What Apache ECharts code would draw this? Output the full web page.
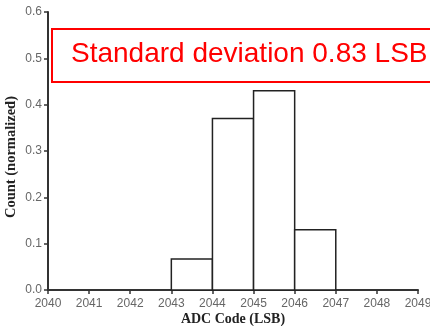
<!DOCTYPE html>
<html>
<head>
<meta charset="utf-8">
<script src="https://cdn.jsdelivr.net/npm/echarts@6/dist/echarts.min.js"></script>
<style>html,body{margin:0;padding:0;background:#fff}#c{width:430px;height:326px}</style>
</head>
<body>
<div id="c"></div>
<script>
var binStarts = [2043, 2044, 2045, 2046];
var counts = [0.067, 0.37, 0.43, 0.13];
var xTitle = 'ADC Code (LSB)';
var yTitle = 'Count (normalized)';
var boxText = 'Standard deviation 0.83 LSB';

var chart = echarts.init(document.getElementById('c'), null, {renderer: 'canvas'});
var data = binStarts.map(function (s, i) { return [s, s + 1, counts[i]]; });
chart.setOption({
  animation: false,
  backgroundColor: '#fff',
  grid: {left: 48, right: 12, top: 12, bottom: 36, containLabel: false, outerBoundsMode: 'none'},
  xAxis: {
    type: 'value', min: 2040, max: 2049, interval: 1,
    name: xTitle, nameLocation: 'middle', nameGap: 22, nameMoveOverlap: false,
    nameTextStyle: {fontFamily: 'Liberation Serif', fontWeight: 'bold', fontSize: 14, color: '#222'},
    axisLine: {lineStyle: {color: '#333', width: 2}},
    axisTick: {show: true, length: 4, lineStyle: {color: '#333', width: 1.5}},
    axisLabel: {color: '#666', fontFamily: 'Liberation Sans', fontSize: 12, margin: 8,
      formatter: function (v) { return String(v); }},
    splitLine: {show: false}
  },
  yAxis: {
    type: 'value', min: 0, max: 0.6, interval: 0.1,
    name: yTitle, nameLocation: 'middle', nameGap: 29, nameMoveOverlap: false,
    nameTextStyle: {fontFamily: 'Liberation Serif', fontWeight: 'bold', fontSize: 14.5, color: '#222', padding: [0, 12, 0, 0]},
    axisLine: {show: true, lineStyle: {color: '#333', width: 2}},
    axisTick: {show: true, length: 4, lineStyle: {color: '#333', width: 1.5}},
    axisLabel: {color: '#666', fontFamily: 'Liberation Sans', fontSize: 12, margin: 6,
      formatter: function (v) { return v.toFixed(1); }},
    splitLine: {show: false}
  },
  series: [{
    type: 'custom',
    data: data,
    renderItem: function (params, api) {
      var p0 = api.coord([api.value(0), api.value(2)]);
      var p1 = api.coord([api.value(1), 0]);
      return {
        type: 'rect',
        shape: {x: p0[0], y: p0[1], width: p1[0] - p0[0], height: p1[1] - p0[1]},
        style: {fill: '#fff', stroke: '#222', lineWidth: 1.5}
      };
    },
    encode: {x: [0, 1], y: 2}
  }],
  graphic: [{
    type: 'rect', left: 51, top: 28, z: 100,
    shape: {width: 400, height: 53},
    style: {fill: '#fff', stroke: '#f00', lineWidth: 2}
  }, {
    type: 'text', left: 71, top: 40, z: 101,
    style: {text: boxText, fill: '#f00', font: '28px "Liberation Sans", Arial, sans-serif'}
  }]
});
</script>
</body>
</html>
